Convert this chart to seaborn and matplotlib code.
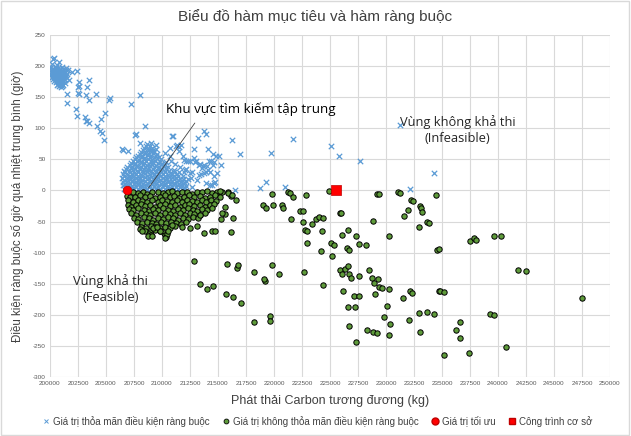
import matplotlib
matplotlib.use("Agg")
import matplotlib.pyplot as plt
from matplotlib.lines import Line2D
from matplotlib.patches import Rectangle
import seaborn as sns


# --- data (x: kg CO2e, y: giờ) ---
# feasible points (blue x), top-left group
blue_top = [(200100, 198), (200300, 196), (200500, 199), (200700, 197), (200900, 195), (201100, 198),
            (200150, 192), (200350, 190), (200550, 193), (200750, 191), (200950, 189), (201150, 192),
            (201350, 190), (200100, 186), (200300, 184), (200500, 187), (200700, 185), (200900, 183),
            (201100, 186), (201300, 184), (200250, 179), (200450, 181), (200650, 178), (200850, 180),
            (201050, 177), (201250, 179), (201450, 182), (200500, 174), (200700, 172), (200900, 175),
            (201100, 171), (201300, 173), (200800, 168), (201000, 166), (201500, 187), (201600, 194),
            (200200, 203), (200600, 202), (201700, 178), (201200, 169), (200200, 195), (200400, 193),
            (200600, 196), (200800, 194), (201000, 192), (201200, 195), (201400, 193), (200200, 189),
            (200400, 187), (200600, 190), (200800, 188), (201000, 186), (201200, 189), (201400, 186),
            (200150, 182), (200350, 182), (200550, 184), (200750, 182), (200950, 180), (201150, 182),
            (201350, 177), (200400, 176), (200600, 176), (200800, 177), (201000, 174), (201200, 176),
            (200650, 170), (200900, 170), (201100, 168), (200100, 193), (200050, 188)]

# feasible points, dense core near the constraint boundary
blue_core = [(206650, 3), (207050, 2), (207450, 4), (207850, 2), (208250, 5), (208650, 3), (209050, 2),
             (209450, 4), (209850, 3), (210250, 2), (210650, 4), (211050, 3), (211450, 2), (211850, 4),
             (206550, 8), (206950, 9), (207350, 7), (207750, 10), (208150, 8), (208550, 9), (208950, 7),
             (209350, 10), (209750, 8), (210150, 9), (210550, 7), (210950, 10), (211350, 8), (211750, 9),
             (212150, 7), (206500, 14), (206900, 13), (207300, 15), (207700, 14), (208100, 13),
             (208500, 16), (208900, 14), (209300, 13), (209700, 15), (210100, 14), (210500, 13),
             (210900, 16), (211300, 14), (211700, 13), (212100, 15), (206450, 20), (206850, 19),
             (207250, 21), (207650, 20), (208050, 19), (208450, 22), (208850, 20), (209250, 19),
             (209650, 21), (210050, 20), (210450, 19), (210850, 21), (211250, 20), (211650, 19),
             (206500, 26), (206900, 25), (207300, 27), (207700, 26), (208100, 25), (208500, 28),
             (208900, 26), (209300, 25), (209700, 27), (210100, 26), (210500, 25), (210900, 27),
             (211300, 26), (206650, 32), (207050, 31), (207450, 33), (207850, 32), (208250, 31),
             (208650, 34), (209050, 32), (209450, 31), (209850, 33), (210250, 32), (210650, 31),
             (206900, 38), (207300, 37), (207700, 39), (208100, 38), (208500, 37), (208900, 40),
             (209300, 38), (209700, 37), (210100, 39), (210500, 38), (207200, 44), (207600, 43),
             (208000, 45), (208400, 44), (208800, 43), (209200, 46), (209600, 44), (210000, 43),
             (207550, 50), (207950, 49), (208350, 51), (208750, 50), (209150, 49), (209550, 52),
             (209900, 50), (207850, 56), (208250, 55), (208650, 57), (209050, 56), (209450, 55),
             (208150, 62), (208550, 61), (208950, 63), (209300, 62), (208400, 68), (208800, 67),
             (209150, 69), (208650, 74), (209050, 76), (210400, 45), (210800, 48), (211200, 42),
             (211600, 38), (210700, 55), (210300, 60), (211100, 33), (211500, 29), (211900, 24),
             (212300, 19), (212000, 30)]

blue_core_b = [(206850, 5), (207250, 6), (207650, 5), (208050, 6), (208450, 4), (208850, 6), (209250, 5),
               (209650, 6), (210050, 5), (210450, 6), (210850, 5), (211250, 6), (211650, 5), (212050, 4),
               (206700, 11), (207100, 12), (207500, 10), (207900, 12), (208300, 11), (208700, 12),
               (209100, 10), (209500, 12), (209900, 11), (210300, 12), (210700, 10), (211100, 12),
               (211500, 11), (211900, 12), (206650, 17), (207050, 18), (207450, 16), (207850, 18),
               (208250, 17), (208650, 18), (209050, 16), (209450, 18), (209850, 17), (210250, 18),
               (210650, 16), (211050, 18), (211450, 17), (211850, 18), (206650, 23), (207050, 24),
               (207450, 22), (207850, 24), (208250, 23), (208650, 24), (209050, 22), (209450, 24),
               (209850, 23), (210250, 24), (210650, 22), (211050, 24), (211450, 23), (206700, 29),
               (207100, 30), (207500, 28), (207900, 30), (208300, 29), (208700, 30), (209100, 28),
               (209500, 30), (209900, 29), (210300, 30), (210700, 28), (211100, 30), (206800, 35),
               (207200, 36), (207600, 34), (208000, 36), (208400, 35), (208800, 36), (209200, 34),
               (209600, 36), (210000, 35), (210400, 36), (207100, 41), (207500, 42), (207900, 40),
               (208300, 42), (208700, 41), (209100, 42), (209500, 40), (209900, 42), (210300, 41),
               (207400, 47), (207800, 48), (208200, 46), (208600, 48), (209000, 47), (209400, 48),
               (209800, 46), (207700, 53), (208100, 54), (208500, 52), (208900, 54), (209300, 53),
               (209700, 54), (208000, 59), (208400, 60), (208800, 58), (209200, 60), (209550, 59),
               (208300, 65), (208700, 66), (209100, 64), (209450, 66), (208550, 71), (208950, 72)]

# feasible points, scattered
blue_sparse = [(200300, 211), (200390, 213), (200800, 206), (201400, 197), (202000, 190), (202440, 192),
               (202600, 175), (202570, 168), (202480, 166), (202480, 157), (202600, 155), (201490, 155),
               (201490, 141), (203520, 178), (203280, 166), (203220, 154), (204110, 155), (203520, 145),
               (205280, 145), (205390, 149), (207220, 139), (208050, 154), (202350, 131), (202390, 120),
               (203100, 118), (203340, 112), (203520, 109), (203220, 111), (204230, 103), (204470, 96),
               (204620, 93), (204540, 115), (204950, 124), (204830, 81), (207630, 89), (208440, 104),
               (206440, 66), (207000, 63), (208050, 76), (209480, 73), (210940, 87), (213780, 96),
               (213930, 91), (216280, 81), (216930, 58), (219710, 60), (221710, 82), (213210, 85),
               (211240, 72), (211510, 63), (211870, 56), (212850, 52), (213060, 47), (213420, 43),
               (213710, 41), (214190, 47), (214640, 46), (212160, 35), (212640, 30), (213440, 26),
               (214250, 29), (216520, 1), (218780, 4), (219290, 14), (221020, 5), (214070, 67),
               (214550, 59), (215090, 55), (215300, 41), (214020, 39), (214130, 33), (213780, 28),
               (214610, 12), (214310, 9), (225050, 72), (225820, 55), (227670, 47), (231240, 105),
               (234320, 28), (232140, 2), (210670, 68), (211330, 73), (211560, 70), (212880, 67),
               (214820, 56), (212140, 48), (212520, 47), (212970, 46), (213270, 41), (213690, 39),
               (214400, 47), (214520, 41), (213930, 29), (214760, 14), (214460, 9), (212550, 20),
               (213120, 17), (212080, 12), (212670, 6), (210850, 88), (207690, 90), (206500, 65),
               (211660, 73), (211960, 49), (212280, 47), (213600, 36), (214910, 28), (214670, 24),
               (213890, 12), (213270, 25), (212520, 28), (212080, 33)]

# infeasible points (green), dense core
green_core = [(206950, -3), (207400, -2), (207850, -4), (208300, -2), (208700, -5), (209150, -3),
              (209600, -2), (210050, -4), (210500, -3), (210900, -1), (211350, -4), (211800, -2),
              (212250, -3), (212700, -5), (213150, -2), (213600, -3), (214050, -1), (214500, -4),
              (214950, -2), (215350, -3), (206900, -9), (207150, -11), (207600, -10), (208050, -8),
              (208500, -11), (208950, -9), (209350, -12), (209800, -10), (210250, -8), (210700, -11),
              (211100, -9), (211550, -12), (212000, -10), (212450, -8), (212900, -11), (213350, -9),
              (213800, -12), (214250, -10), (214700, -8), (215150, -11), (206950, -16), (207400, -18),
              (207850, -15), (208250, -17), (208700, -19), (209150, -16), (209600, -18), (210000, -15),
              (210450, -17), (210900, -19), (211300, -16), (211750, -18), (212200, -15), (212650, -17),
              (213100, -19), (213550, -16), (213950, -18), (214400, -15), (214850, -17), (207000, -23),
              (207200, -26), (207650, -24), (208100, -22), (208500, -25), (208950, -23), (209400, -26),
              (209850, -24), (210250, -22), (210700, -25), (211150, -23), (211600, -26), (212050, -24),
              (212450, -22), (212900, -25), (213350, -23), (213800, -26), (214250, -24), (214650, -22),
              (207050, -30), (207450, -32), (207900, -29), (208350, -31), (208800, -33), (209200, -30),
              (209650, -32), (210100, -29), (210550, -31), (210950, -33), (211400, -30), (211850, -32),
              (212300, -29), (212750, -31), (213150, -33), (213600, -30), (214050, -32), (214450, -29),
              (207200, -37), (207650, -39), (208100, -36), (208550, -38), (208950, -40), (209400, -37),
              (209850, -39), (210300, -36), (210750, -38), (211150, -40), (211600, -37), (212050, -39),
              (212500, -36), (212900, -38), (213350, -40), (213800, -37), (207500, -44), (207900, -46),
              (208350, -43), (208800, -45), (209200, -47), (209650, -44), (210100, -46), (210550, -43),
              (210950, -45), (211400, -47), (211850, -44), (212300, -46), (212750, -43), (213200, -45),
              (207800, -51), (208200, -53), (208650, -50), (209100, -52), (209500, -54), (209950, -51),
              (210400, -53), (210800, -50), (211250, -52), (211700, -54), (212150, -51), (208100, -58),
              (208550, -60), (209000, -57), (209400, -59), (209850, -61), (210300, -58), (210700, -60),
              (211150, -57), (208500, -65), (208900, -67), (209350, -64), (209800, -66), (210200, -68)]

# infeasible points, scattered
green_sparse = [(215860, -3), (216160, -9), (216580, -15), (215650, -27), (216310, -44), (214430, -66),
                (214700, -66), (216160, -67), (213150, -57), (212460, -60), (211830, -59), (210850, -55),
                (209240, -60), (209780, -65), (209570, -58), (208830, -70), (209010, -72), (210290, -71),
                (210380, -75), (208050, -62), (208200, -66), (210470, -70), (210290, -77), (208790, -73),
                (209100, -74), (215140, -1), (215890, -4), (216280, -7), (215590, -38), (215300, -46),
                (215360, -36), (213350, -39), (213710, -68), (210530, -66), (212820, -113),
                (213350, -151), (214020, -158), (214550, -153), (215810, -118), (215740, -166),
                (216310, -171), (216700, -124), (216760, -120), (217080, -181),
                (219830, -6), (221290, -2), (221470, -4), (221680, -10), (222900, -8), (224900, -1),
                (229220, -6), (229370, -6), (231070, -2), (231220, -4), (232200, -16), (232410, -17),
                (234500, -8), (219050, -24), (219290, -28), (219950, -24), (220720, -24), (220840, -28),
                (222360, -33), (222570, -33), (225880, -36), (226000, -37), (231960, -32), (231640, -41),
                (233070, -25), (233130, -29), (233190, -34), (221530, -46), (222570, -51), (223350, -54),
                (223790, -46), (224060, -43), (224360, -44), (228830, -49), (233700, -51), (233810, -53),
                (232940, -59), (222810, -63), (222990, -66), (224270, -66), (226570, -64), (226090, -72),
                (227280, -74), (230260, -73), (222930, -85), (225050, -84), (225340, -87), (227580, -86),
                (228240, -88), (226480, -93), (226720, -96), (234590, -96), (234770, -94), (224240, -98),
                (225160, -105), (219800, -120), (218250, -131), (220420, -134), (222690, -131),
                (225910, -128), (226300, -126), (226590, -122), (226030, -134), (226660, -135),
                (226860, -141), (227580, -137), (228440, -128), (228740, -141), (229280, -142),
                (228920, -149), (229370, -155), (229670, -157), (230300, -158), (229040, -166),
                (226180, -161), (227160, -170), (227610, -169), (232110, -161), (232290, -165),
                (234770, -162), (231510, -173), (219230, -145), (219080, -142), (224390, -152),
                (226590, -187), (227220, -188), (230080, -186), (232940, -197), (233630, -195),
                (234290, -198), (219620, -202), (219680, -210), (218250, -211), (229810, -204),
                (232050, -208), (230380, -215), (226680, -218), (228330, -224), (228800, -227),
                (229220, -229), (230260, -233), (233040, -228), (227310, -243),
                (237510, -81), (237870, -76), (238080, -80), (239650, -73), (240230, -74),
                (241770, -128), (242520, -129), (234800, -162), (235180, -164), (247500, -173),
                (239300, -198), (239600, -201), (236590, -212), (236230, -224), (236620, -237),
                (240670, -252), (235150, -264), (237450, -262)]

opt_x, opt_y = [206850], [0]
base_x, base_y = [225550], [0]

blue_x, blue_y = zip(*(blue_top + blue_core + blue_core_b + blue_sparse))
green_x, green_y = zip(*(green_core + green_sparse))

BLUE = "#5B9BD5"
GREEN = "#5E9B3A"
RED = "#FF0000"

sns.set_style("whitegrid")
plt.rcParams["font.family"] = ["Liberation Sans", "DejaVu Sans"]
plt.rcParams["axes.unicode_minus"] = False

fig = plt.figure(figsize=(6.31, 4.36), dpi=100)
ax = fig.add_axes([50 / 631, 1 - 377 / 436, 560 / 631, 342 / 436])

sns.scatterplot(x=list(blue_x), y=list(blue_y), marker="x", color=BLUE, s=15, linewidth=0.9, ax=ax, zorder=3)
sns.scatterplot(x=list(green_x), y=list(green_y), marker="o", color=GREEN, edgecolor="black",
                s=15, linewidth=0.7, ax=ax, zorder=4)
sns.scatterplot(x=opt_x, y=opt_y, marker="o", color=RED, edgecolor="#C00000", s=38, linewidth=0.5, ax=ax, zorder=6)
sns.scatterplot(x=base_x, y=base_y, marker="s", color=RED, edgecolor="#C00000", s=45, linewidth=0.5, ax=ax, zorder=6)

ax.set_xlim(200000, 250000)
ax.set_ylim(-300, 250)
ax.set_xticks(range(200000, 250001, 2500))
ax.set_yticks(range(-300, 251, 50))
ax.tick_params(axis="both", length=0, labelsize=4.6, colors="#595959", pad=3)
ax.grid(True, color="#D9D9D9", linewidth=0.8)
for s in ax.spines.values():
    s.set_visible(False)

ax.set_xlabel("Phát thải Carbon tương đương (kg)", fontsize=9, color="#404040", labelpad=6)
ax.set_ylabel("Điều kiện ràng buộc số giờ quá nhiệt trung bình (giờ)", fontsize=8.3, color="#404040", labelpad=6)
fig.text(315 / 631, 1 - 17 / 436, "Biểu đồ hàm mục tiêu và hàm ràng buộc", ha="center", va="center",
         fontsize=11, color="#404040")

anno_font = ["Open Sans", "DejaVu Sans"]
ax.annotate("Khu vực tìm kiếm tập trung", xy=(208800, 4), xytext=(217900, 130),
            ha="center", va="center", fontsize=9.6, family=anno_font, color="black",
            arrowprops=dict(arrowstyle="-", color="#404040", lw=0.6, relpos=(0.2, 0.0),
                            shrinkA=3, shrinkB=0), zorder=7)
ax.text(236400, 97, "Vùng không khả thi\n(Infeasible)", ha="center", va="center",
        fontsize=9.3, family=anno_font, linespacing=1.3, zorder=7)
ax.text(205400, -158, "Vùng khả thi\n(Feasible)", ha="center", va="center",
        fontsize=9.3, family=anno_font, linespacing=1.3, zorder=7)

handles = [
    Line2D([], [], marker="x", linestyle="", color=BLUE, markersize=3, markeredgewidth=0.7),
    Line2D([], [], marker="o", linestyle="", markerfacecolor=GREEN, markeredgecolor="black",
           markersize=3.5, markeredgewidth=0.6),
    Line2D([], [], marker="o", linestyle="", markerfacecolor=RED, markeredgecolor="#C00000", markersize=5),
    Line2D([], [], marker="s", linestyle="", markerfacecolor=RED, markeredgecolor="#C00000", markersize=5),
]
labels = ["Giá trị thỏa mãn điều kiện ràng buộc", "Giá trị không thỏa mãn điều kiện ràng buộc",
          "Giá trị tối ưu", "Công trình cơ sở"]
fig.legend(handles, labels, loc="center", bbox_to_anchor=(317 / 631, 1 - 421 / 436), ncol=4,
           frameon=False, fontsize=7, handlelength=0.8, handletextpad=0.3, columnspacing=1.3,
           labelcolor="#404040")

fig.patches.append(Rectangle((0.002, 0.003), 0.995, 0.994, transform=fig.transFigure, fill=False,
                             edgecolor="#D9D9D9", linewidth=1))

fig.savefig("out.png", dpi=100)
